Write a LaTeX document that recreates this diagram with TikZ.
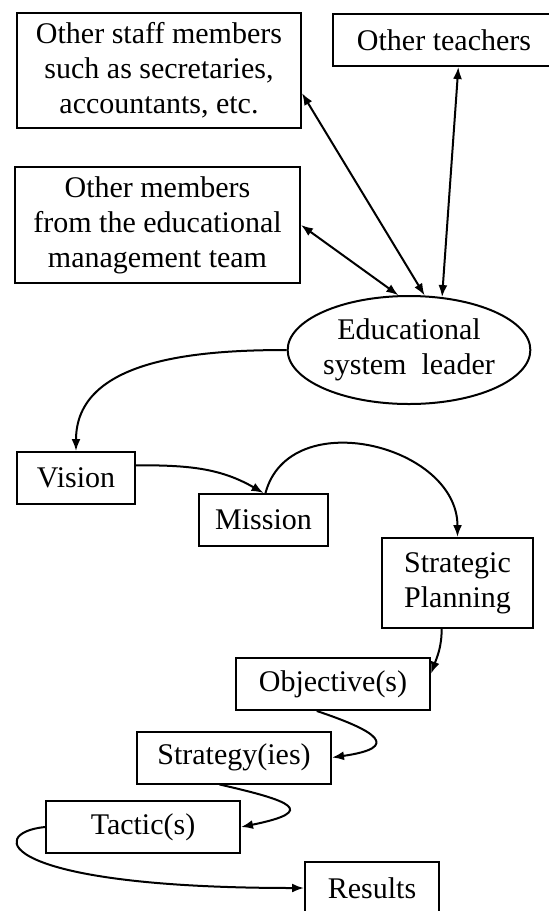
\documentclass[tikz,border=0pt]{standalone}
\usepackage{fontspec}
\setmainfont{Liberation Serif}
\usetikzlibrary{arrows.meta,shapes.geometric}
\tikzset{
  box/.style={draw, line width=1pt, inner sep=0pt, align=center, minimum height=26pt},
  oval/.style={draw, ellipse, line width=1pt, inner sep=0pt, align=center},
  link/.style={line width=1pt, -{Latex[length=6pt,width=4.5pt]}},
  both/.style={line width=1pt, {Latex[length=6pt,width=4.5pt]}-{Latex[length=6pt,width=4.5pt]}}
}

\begin{document}
\begin{tikzpicture}[x=0.5pt, y=-0.5pt, font=\fontsize{15}{17.5}\selectfont]
  \useasboundingbox (0,0) rectangle (549,911);
  \clip (0,0) rectangle (549,911);
  % people around the leader
  \node[box, minimum width=142pt, minimum height=57.5pt] (staff) at (159,70.5) {Other staff members\\such as secretaries,\\accountants, etc.};
  \node[box, minimum width=111pt] (teachers) at (444,40) {Other teachers};
  \node[box, minimum width=142.5pt, minimum height=58pt] (members) at (157.5,225) {Other members\\from the educational\\management team};
  \node[oval, minimum width=116pt, minimum height=54pt] (leader) at (409,350) {Educational\\system \ leader};
  % the chain down to the results
  \node[box, minimum width=75.5pt, minimum height=45pt] (planning) at (457.5,583) {Strategic\\Planning};
  \foreach \n/\x/\y/\w/\t in {vision/76/478/59/Vision, mission/263.5/520/64.5/Mission, objective/333/684/97/Objective(s), strategy/234/757.5/97/Strategy(ies), tactic/143/827/97/Tactic(s), results/372/888/67/Results}
    \node[box, minimum width=\w pt] (\n) at (\x,\y) {\t};

  \draw[both] (staff.-9.4) -- (leader.74);
  \draw[both] (teachers.-62) -- (leader.58);
  \draw[both] (members.east) -- (leader.101);
  \draw[link] (leader.west) to[out=180, in=90] (vision.north);
  \draw[link] (vision.12) to[out=0, in=150] (mission.north);
  \draw[link] ([xshift=1pt]mission.north) to[out=75, in=90, looseness=1.2] (planning.north);
  \draw[link] (planning.-109) to[out=-90, in=70] (objective.6);
  \draw[link] (objective.-121.6) .. controls +(60,20) and +(70,-10) .. (strategy.east);
  \draw[link] (strategy.-118.8) .. controls +(70,16) and +(79,-16) .. (tactic.east);
  \draw[link] (tactic.west) .. controls +(-60,6) and +(-305,0) .. (results.west);
\end{tikzpicture}
\end{document}
